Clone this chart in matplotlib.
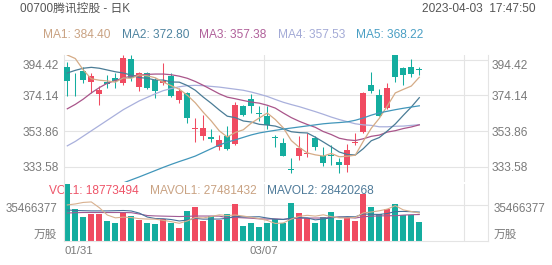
import matplotlib
matplotlib.use('Agg')
import matplotlib.pyplot as plt
import matplotlib.transforms as mtransforms

plt.rcParams['font.family'] = ['Liberation Sans', 'Noto Sans CJK SC']

# daily candles, 00700 from 01/31 to 04/03
opens = [390.0, 386.5, 388.1, 381.8, 375.0, 381.5, 383.8, 380.9, 394.5, 379.0,
         387.0, 382.8, 380.9, 385.1, 371.5, 375.3, 355.2, 351.1, 350.7, 345.0,
         351.1, 346.5, 368.1, 371.8, 364.3, 362.4, 350.5, 347.3, 332.4, 339.7,
         340.9, 349.8, 339.7, 340.3, 336.5, 334.6, 347.0, 353.5, 380.0, 374.3,
         366.8, 397.0, 389.4, 390.0, 388.7]
closes = [382.4, 386.0, 382.8, 385.1, 377.1, 380.6, 382.2, 395.1, 383.8, 386.6,
          378.4, 376.7, 382.4, 373.9, 376.7, 361.1, 355.6, 355.4, 349.2, 348.8,
          343.5, 368.6, 363.0, 368.1, 363.5, 357.3, 350.0, 339.7, 332.0, 344.1,
          341.6, 344.7, 336.0, 339.7, 334.6, 343.1, 347.6, 375.6, 376.7, 362.6,
          378.1, 384.7, 385.6, 386.2, 388.4]
highs = [393.0, 387.0, 390.3, 386.6, 379.4, 385.6, 386.6, 397.0, 397.0, 387.5,
         387.5, 383.8, 392.6, 387.0, 378.1, 376.2, 361.1, 363.0, 354.9, 351.6,
         356.7, 370.5, 368.6, 374.9, 368.1, 368.1, 351.6, 349.8, 338.4, 351.1,
         352.6, 351.1, 345.0, 346.0, 338.4, 346.4, 352.6, 376.2, 387.5, 377.5,
         381.3, 397.5, 390.0, 394.5, 390.3]
lows = [373.9, 373.9, 381.3, 375.6, 368.6, 378.1, 378.1, 380.0, 382.4, 376.7,
        377.5, 372.4, 380.0, 373.0, 370.0, 358.3, 347.8, 348.8, 347.8, 343.1,
        343.1, 346.0, 362.4, 363.9, 359.8, 354.9, 345.0, 339.7, 330.3, 337.5,
        339.3, 343.1, 334.1, 334.6, 329.9, 330.9, 346.0, 352.9, 375.3, 362.6,
        366.2, 381.8, 380.0, 384.7, 385.6]
# volume, million shares
volumes = [56.3, 31.5, 23.8, 26.2, 26.2, 19.9, 17.3, 27.2, 24.5, 20.6,
           17.9, 16.6, 21.6, 17.9, 12.3, 29.5, 33.5, 19.9, 24.8, 20.6,
           26.2, 36.2, 14.9, 17.9, 14.1, 17.3, 21.3, 17.3, 37.7, 27.2,
           22.3, 17.3, 23.8, 28.8, 20.6, 22.3, 19.9, 46.4, 33.2, 26.5,
           31.2, 36.5, 25.5, 25.5, 18.77]

ma1 = [397.0, 395.0, 388.5, 383.5, 382.7, 382.3, 381.6, 384.0, 383.8, 385.7,
       385.2, 384.1, 381.6, 379.6, 377.6, 374.2, 369.9, 364.5, 359.6, 354.0,
       350.5, 353.1, 354.6, 358.4, 361.3, 364.1, 360.4, 355.7, 348.5, 344.6,
       341.5, 340.4, 339.7, 341.2, 339.3, 339.6, 340.2, 348.1, 355.5, 361.1,
       368.1, 375.5, 377.5, 379.4, 384.4]
ma2 = [386.8, 388.3, 389.5, 390.0, 389.5, 388.5, 387.5, 386.8, 385.6, 384.2,
       383.8, 382.8, 382.8, 381.7, 381.6, 379.7, 377.0, 373.1, 369.6, 365.8,
       362.3, 361.5, 359.6, 359.0, 357.7, 357.3, 356.7, 355.2, 353.5, 353.0,
       352.8, 350.4, 347.7, 344.9, 342.0, 340.6, 340.3, 343.9, 348.4, 350.2,
       353.9, 357.9, 362.8, 367.5, 372.8]
ma3 = [366.5, 369.0, 372.0, 375.5, 378.5, 381.0, 382.5, 384.0, 385.0, 385.6,
       386.0, 386.2, 386.2, 385.8, 385.0, 383.8, 382.0, 379.8, 377.4, 375.0,
       373.1, 372.2, 371.2, 370.3, 369.7, 368.5, 366.9, 364.1, 361.5, 359.4,
       357.6, 356.0, 353.6, 351.9, 349.8, 348.9, 348.5, 349.5, 350.9, 351.6,
       353.3, 354.1, 355.3, 356.2, 357.4]
ma4 = [345.5, 348.0, 351.0, 354.0, 357.0, 360.0, 363.0, 366.0, 368.5, 371.0,
       373.0, 375.0, 376.8, 378.0, 379.0, 379.6, 379.8, 379.6, 379.2, 378.8,
       378.2, 377.6, 377.0, 376.0, 374.8, 373.5, 371.8, 370.2, 368.9, 367.7,
       366.3, 364.9, 363.4, 361.8, 360.4, 359.2, 358.0, 357.4, 357.1, 356.3,
       356.3, 356.6, 356.7, 357.1, 357.5]
# MA5 enters the panel from below, values start at candle 6
ma5_start = 6
ma5 = [322.7, 324.5, 326.2, 327.9, 329.7, 331.5, 333.3, 335.0, 336.6, 338.1,
       339.7, 341.8, 343.9, 346.0, 347.6, 348.9, 350.3, 351.7, 352.8, 353.6,
       354.3, 355.0, 355.6, 356.2, 356.8, 357.4, 358.0, 358.4, 358.7, 359.1,
       360.0, 361.3, 362.9, 364.2, 365.1, 366.0, 366.8, 367.5, 368.2]

mavol1 = [35.5, 36.5, 38.0, 38.5, 32.8, 25.5, 22.7, 23.4, 23.0, 21.9,
          21.5, 21.4, 20.2, 18.9, 17.3, 19.6, 23.0, 22.6, 24.0, 25.7,
          25.0, 25.5, 24.5, 23.2, 21.9, 20.1, 17.1, 17.6, 21.5, 24.2,
          25.2, 24.4, 25.7, 23.9, 22.6, 22.6, 23.1, 27.6, 28.5, 29.7,
          31.4, 34.8, 30.6, 29.0, 27.5]
mavol2 = [30.5, 30.0, 29.8, 29.6, 29.6, 29.6, 29.8, 30.0, 29.5, 27.4,
          23.5, 22.0, 21.8, 21.0, 19.6, 20.5, 22.2, 21.4, 21.5, 21.5,
          22.3, 24.3, 23.6, 23.6, 23.8, 22.5, 21.3, 21.1, 22.4, 23.0,
          22.6, 20.7, 21.6, 22.7, 23.4, 23.9, 23.7, 26.6, 26.2, 26.1,
          27.0, 28.9, 29.1, 28.8, 28.4]
mavol3 = [27.5, 27.8, 28.0, 28.0, 28.0, 28.0, 28.0, 28.0, 27.8, 26.5,
          25.0, 24.6, 24.4, 24.2, 24.0, 24.2, 24.5, 24.5, 24.5, 24.4,
          22.9, 23.1, 22.7, 22.3, 21.7, 21.5, 21.7, 21.2, 21.9, 22.2,
          22.5, 22.5, 22.6, 23.1, 23.6, 23.2, 22.5, 23.8, 24.3, 24.6,
          24.8, 24.8, 25.4, 25.8, 26.0]

price_ticks = [333.58, 353.86, 374.14, 394.42]
vol_tick = 35.466377
vol_tick_label = '35466377'
date_labels = ['01/31', '03/07']
date_every = 25

ma_labels = ['MA1: 384.40', 'MA2: 372.80', 'MA3: 357.38', 'MA4: 357.53', 'MA5: 368.22']
vol_labels = ['VOL1: 18773494', 'MAVOL1: 27481432', 'MAVOL2: 28420268']

RED = '#f04b61'
GREEN = '#14ad9f'
GRID = '#e4e4e4'
LBL = '#7a7a7a'
ma_colors = ['#d5ab86', '#4a7c96', '#a9558a', '#a9b0dc', '#4196ba']
ma_text_colors = ['#c9a282', '#4f84a0', '#b0609a', '#a3aad6', '#4a9fc4']
vol_line_colors = ['#d8b08e', '#46709a', '#a05a94']
vol_text_colors = ['#ee5468', '#c9a282', '#4e7a99']

W, H = 552, 265
fig = plt.figure(figsize=(W / 100, H / 100), dpi=100)


def fx(px):
    return px / W


def fy(py):
    return 1 - py / H


ax = fig.add_axes([fx(64), fy(182), fx(488) - fx(64), fy(55) - fy(182)])
axv = fig.add_axes([fx(64), fy(240.7), fx(488) - fx(64), fy(183.5) - fy(240.7)])
axv.patch.set_alpha(0)

n = len(closes)
idx = list(range(n))
colors = [RED if c >= o else GREEN for o, c in zip(opens, closes)]

for a in (ax, axv):
    a.set_xlim(-0.4125, 52.5875)
    a.set_xticks([])
    a.tick_params(left=False, labelleft=False, bottom=False, labelbottom=False)
    for s in a.spines.values():
        s.set_color(GRID)
        s.set_linewidth(0.8)
    a.spines['top'].set_visible(False)
    for k in range(date_every, 2 * date_every + 1, date_every):
        a.axvline(k - 0.4, color=GRID, lw=0.8, zorder=0)
ax.spines['bottom'].set_visible(False)

# price panel
ax.set_ylim(325.0, 397.0)
ax.set_yticks(price_ticks)
ax.yaxis.grid(True, color=GRID, lw=0.8)
ax.set_axisbelow(True)

ax.vlines(idx, lows, highs, colors=colors, lw=0.75, zorder=2)
bottoms = [min(o, c) for o, c in zip(opens, closes)]
heights = [max(abs(c - o), 0.45) for o, c in zip(opens, closes)]
ax.bar(idx, heights, bottom=bottoms, width=0.75, color=colors, zorder=3)

for vals, col in zip([ma4, ma3, ma2, ma1], [ma_colors[3], ma_colors[2], ma_colors[1], ma_colors[0]]):
    ax.plot(idx, vals, color=col, lw=0.9, zorder=4)
ax.plot(idx[ma5_start:], ma5, color=ma_colors[4], lw=0.9, zorder=4)

left_t = mtransforms.blended_transform_factory(ax.transAxes, ax.transData)
for v in price_ticks:
    va = 'top' if v == max(price_ticks) else 'center_baseline'
    ax.text(-0.013, v, f'{v:.2f}', transform=left_t, ha='right', va=va,
            fontsize=8.6, color=LBL)
    ax.text(1.0094, v, f'{v:.2f}', transform=left_t, ha='left', va=va,
            fontsize=8.6, color=LBL)

# volume panel
axv.set_ylim(0, 56.8)
axv.set_yticks([vol_tick])
axv.yaxis.grid(True, color=GRID, lw=0.8)
axv.set_axisbelow(True)
axv.bar(idx, volumes, width=0.75, color=colors, zorder=2)
for vals, col in zip([mavol3, mavol2, mavol1], vol_line_colors[::-1]):
    axv.plot(idx, vals, color=col, lw=0.8, zorder=3)

vt = mtransforms.blended_transform_factory(axv.transAxes, axv.transData)
vt = mtransforms.offset_copy(vt, fig=fig, y=-2.5, units='dots')
axv.text(-0.0158, vol_tick, vol_tick_label, transform=vt, ha='right',
         va='center_baseline', fontsize=8.4, color=LBL)
axv.text(1.0142, vol_tick, vol_tick_label, transform=vt, ha='left',
         va='center_baseline', fontsize=8.4, color=LBL)
axv.text(-0.0158, 0.1, '万股', transform=axv.transAxes, ha='right', va='center',
         fontsize=8.4, color=LBL)
axv.text(1.0142, 0.1, '万股', transform=axv.transAxes, ha='left', va='center',
         fontsize=8.4, color=LBL)

dt = mtransforms.blended_transform_factory(axv.transData, axv.transAxes)
for k, lab in enumerate(date_labels):
    xpos = k * date_every - 0.4
    axv.text(xpos, -0.18, lab, transform=dt, ha='left' if k == 0 else 'center',
             va='center', fontsize=8.2, color=LBL)

# header texts
fig.text(fx(20), fy(8.5), '00700腾讯控股 - 日K', ha='left', va='center',
         fontsize=8.5, color='#555555')
fig.text(fx(535.5), fy(8.5), '2023-04-03  17:47:50', ha='right', va='center',
         fontsize=8.6, color='#555555')

ma_x = [43.3, 121.7, 199.3, 277.7, 356.0]
for xp, lab, col in zip(ma_x, ma_labels, ma_text_colors):
    fig.text(fx(xp), fy(34.5), lab, ha='left', va='center', fontsize=8.6, color=col)

vol_x = [49.3, 150.0, 266.7]
for xp, lab, col in zip(vol_x, vol_labels, vol_text_colors):
    axv.text(fx(xp), fy(191), lab, transform=fig.transFigure, ha='left',
             va='center', fontsize=8.6, color=col, zorder=1)

fig.savefig('out.png', dpi=100)
